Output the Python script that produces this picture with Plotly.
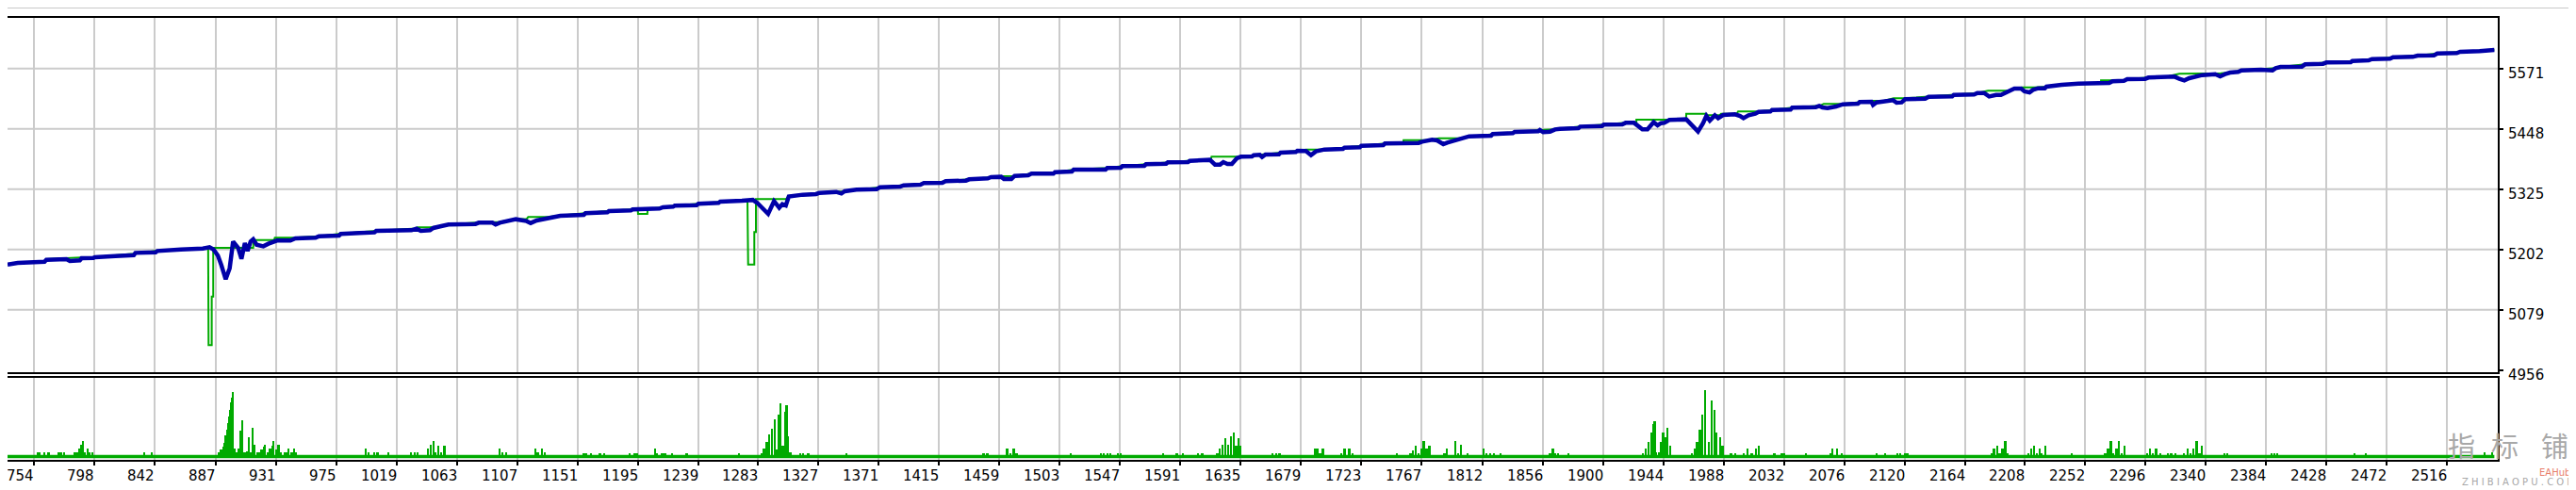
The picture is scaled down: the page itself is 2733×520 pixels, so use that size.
import plotly.graph_objects as go

# ---------------- data ----------------
# Balance curve (blue): (trade number, balance)
balance_points = [
    (734.8, 5171.3), (742.2, 5174.5), (761.8, 5177.0), (763.1, 5180.9), (777.8, 5182.2),
    (780.3, 5178.4), (787.6, 5179.7), (788.9, 5184.1), (797.5, 5184.8), (798.7, 5186.1),
    (813.5, 5188.6), (827.0, 5190.5), (828.2, 5195.0), (843.0, 5196.3), (844.2, 5198.9),
    (860.2, 5200.2), (861.4, 5202.1), (877.4, 5204.0), (882.3, 5206.6), (885.2, 5202.1),
    (888.4, 5189.3), (890.9, 5170.1), (894.1, 5141.2), (897.0, 5163.7), (899.5, 5218.1),
    (903.2, 5205.3), (905.6, 5182.9), (908.1, 5214.9), (910.1, 5198.9), (912.3, 5218.1),
    (914.2, 5222.6), (916.7, 5211.7), (921.6, 5208.5), (925.3, 5213.6), (929.0, 5216.8),
    (931.4, 5220.0), (941.3, 5220.0), (945.0, 5224.5), (959.7, 5225.8), (962.2, 5229.0),
    (976.9, 5230.3), (978.1, 5233.5), (991.7, 5235.4), (1002.7, 5236.7), (1004.0, 5239.9),
    (1029.8, 5241.2), (1033.4, 5244.4), (1036.6, 5239.9), (1043.3, 5241.2), (1045.7, 5245.7),
    (1050.7, 5248.9), (1056.8, 5252.7), (1076.5, 5254.0), (1078.9, 5256.5), (1088.8, 5256.5),
    (1091.2, 5252.7), (1094.2, 5256.5), (1101.0, 5259.7), (1106.0, 5263.6), (1113.8, 5259.8),
    (1116.8, 5255.9), (1121.2, 5261.0), (1129.8, 5266.2), (1138.4, 5270.7), (1155.6, 5272.6),
    (1156.8, 5275.8), (1172.8, 5277.7), (1174.0, 5280.3), (1190.0, 5281.5), (1191.2, 5283.5),
    (1210.9, 5285.4), (1213.4, 5288.0), (1220.8, 5289.2), (1222.0, 5291.2), (1238.0, 5292.4),
    (1239.2, 5295.0), (1254.0, 5297.0), (1255.2, 5299.5), (1271.1, 5301.4), (1279.0, 5303.0),
    (1282.2, 5297.0), (1287.1, 5282.2), (1290.2, 5274.5), (1294.5, 5300.5), (1298.3, 5287.0),
    (1300.6, 5294.4), (1303.1, 5291.8), (1305.3, 5310.0), (1308.0, 5311.0), (1313.0, 5311.0),
    (1315.4, 5313.6), (1325.2, 5314.9), (1327.7, 5317.4), (1339.9, 5319.3), (1343.7, 5316.1),
    (1346.1, 5320.6), (1354.7, 5323.8), (1369.5, 5325.1), (1371.9, 5329.0), (1386.7, 5330.2),
    (1389.1, 5332.8), (1401.4, 5334.1), (1403.9, 5337.3), (1417.4, 5337.9), (1419.8, 5341.1),
    (1434.6, 5342.4), (1437.0, 5345.0), (1450.6, 5346.9), (1453.0, 5349.4), (1460.4, 5350.1),
    (1462.4, 5345.6), (1467.8, 5345.6), (1470.2, 5352.0), (1480.1, 5353.3), (1482.5, 5356.5),
    (1498.5, 5356.5), (1499.7, 5359.7), (1512.0, 5361.0), (1513.3, 5364.8), (1536.6, 5364.8),
    (1537.8, 5368.0), (1547.7, 5368.7), (1548.9, 5371.9), (1564.9, 5372.5), (1566.1, 5375.7),
    (1580.9, 5377.0), (1582.1, 5379.6), (1596.8, 5380.2), (1598.1, 5382.8), (1612.8, 5384.7),
    (1616.5, 5375.1), (1620.2, 5375.1), (1622.6, 5380.2), (1625.6, 5376.4), (1628.8, 5376.4),
    (1632.5, 5387.9), (1635.4, 5391.1), (1643.5, 5391.7), (1644.8, 5394.3), (1649.2, 5395.0),
    (1650.9, 5390.5), (1653.4, 5395.6), (1663.2, 5396.2), (1664.4, 5399.4), (1675.5, 5400.7),
    (1676.7, 5403.3), (1682.9, 5402.6), (1686.6, 5394.3), (1690.2, 5402.0), (1696.4, 5405.8),
    (1709.9, 5407.1), (1711.1, 5409.7), (1722.2, 5410.3), (1723.4, 5413.5), (1739.4, 5414.8),
    (1740.6, 5418.0), (1765.2, 5419.3), (1767.7, 5421.8), (1775.0, 5425.7), (1778.7, 5424.4),
    (1783.2, 5416.7), (1786.1, 5419.9), (1789.8, 5423.1), (1794.7, 5427.6), (1802.1, 5432.7),
    (1818.1, 5434.0), (1819.3, 5437.2), (1834.0, 5439.1), (1835.3, 5441.7), (1852.5, 5443.0),
    (1853.7, 5445.5), (1856.2, 5441.1), (1861.1, 5442.3), (1864.8, 5446.8), (1868.4, 5448.1),
    (1881.9, 5449.3), (1883.2, 5452.5), (1899.1, 5453.8), (1900.4, 5456.4), (1913.9, 5457.0),
    (1916.3, 5460.2), (1922.5, 5460.2), (1925.0, 5455.1), (1928.6, 5446.8), (1932.3, 5446.8),
    (1936.8, 5461.5), (1939.7, 5455.1), (1942.2, 5459.6), (1944.6, 5460.2), (1948.3, 5466.0),
    (1960.6, 5467.3), (1965.5, 5451.9), (1969.2, 5442.3), (1972.9, 5459.6), (1975.3, 5474.3),
    (1977.8, 5464.7), (1981.5, 5475.6), (1983.9, 5469.8), (1987.6, 5476.2), (1996.2, 5477.5),
    (1999.9, 5474.3), (2002.4, 5469.8), (2006.1, 5475.6), (2011.0, 5478.8), (2013.4, 5482.6),
    (2022.0, 5483.3), (2023.3, 5486.5), (2036.8, 5487.1), (2038.0, 5491.0), (2055.2, 5492.3),
    (2057.7, 5494.8), (2060.1, 5491.6), (2063.8, 5490.3), (2070.0, 5493.5), (2074.9, 5498.0),
    (2086.0, 5499.3), (2087.2, 5502.5), (2095.8, 5503.1), (2097.0, 5496.7), (2099.5, 5501.9),
    (2106.8, 5505.1), (2111.7, 5506.3), (2114.2, 5501.2), (2117.9, 5501.9), (2120.4, 5508.3),
    (2135.1, 5509.6), (2137.6, 5513.4), (2154.8, 5514.0), (2156.0, 5517.2), (2170.8, 5517.9),
    (2173.2, 5521.1), (2178.1, 5521.1), (2181.8, 5514.0), (2186.8, 5517.2), (2190.4, 5517.2),
    (2194.1, 5522.4), (2197.8, 5525.6), (2200.2, 5530.0), (2205.1, 5530.0), (2207.6, 5524.3),
    (2211.3, 5522.4), (2213.8, 5527.5), (2217.5, 5530.7), (2222.4, 5530.7), (2223.6, 5533.9),
    (2232.2, 5535.2), (2234.7, 5537.7), (2246.9, 5540.3), (2269.5, 5541.6), (2271.9, 5544.8),
    (2280.2, 5546.1), (2282.6, 5549.3), (2295.7, 5549.9), (2298.1, 5552.5), (2317.2, 5554.4),
    (2320.7, 5549.9), (2324.3, 5546.7), (2327.9, 5551.2), (2332.7, 5554.4), (2337.4, 5557.6),
    (2346.9, 5559.5), (2350.5, 5555.1), (2354.1, 5559.5), (2357.7, 5562.7), (2363.6, 5564.0),
    (2366.0, 5567.2), (2380.3, 5568.5), (2385.1, 5566.6), (2388.7, 5567.2), (2391.0, 5571.7),
    (2394.6, 5574.3), (2410.1, 5574.9), (2412.5, 5579.4), (2425.6, 5580.7), (2428.0, 5583.2),
    (2445.8, 5583.9), (2447.0, 5586.4), (2458.9, 5587.7), (2461.3, 5590.3), (2474.5, 5590.9),
    (2476.8, 5594.1), (2491.1, 5594.8), (2494.7, 5597.3), (2506.6, 5598.0), (2509.0, 5601.8),
    (2523.3, 5602.5), (2525.7, 5605.0), (2540.0, 5606.3), (2550.7, 5608.9),
]

# Equity curve (green): (trade number, equity)
equity_points = [
    (734.8, 5172.5), (762.0, 5178.0), (763.5, 5182.5), (778.0, 5183.5), (788.5, 5185.5),
    (798.7, 5186.5), (827.5, 5193.5), (844.0, 5199.5), (861.0, 5202.5), (877.0, 5204.5),
    (881.3, 5205.3), (881.6, 5006.7), (883.9, 5006.7), (883.9, 5105.9), (885.0, 5105.9),
    (885.0, 5205.3), (914.2, 5205.3), (914.4, 5221.3), (929.5, 5221.3), (930.0, 5225.8),
    (944.0, 5225.8), (962.0, 5229.0), (978.0, 5234.0), (1004.0, 5240.0), (1033.0, 5244.5),
    (1034.0, 5247.0), (1043.0, 5247.0), (1050.7, 5249.0), (1057.0, 5253.0), (1079.0, 5257.0),
    (1094.0, 5258.0), (1106.0, 5264.0), (1114.0, 5264.5), (1115.0, 5268.1), (1129.0, 5268.1),
    (1138.4, 5271.0), (1156.8, 5276.0), (1174.0, 5280.5), (1191.0, 5283.5), (1195.0, 5283.5),
    (1195.2, 5274.5), (1202.0, 5274.5), (1202.2, 5284.5), (1213.4, 5288.0), (1222.0, 5291.5),
    (1239.2, 5295.0), (1255.2, 5299.5), (1271.0, 5302.5), (1275.1, 5303.3), (1275.1, 5235.4),
    (1275.6, 5235.4), (1275.6, 5171.4), (1280.1, 5171.4), (1280.1, 5237.3), (1281.3, 5237.3),
    (1281.3, 5304.6), (1303.3, 5304.6), (1305.0, 5311.0), (1315.4, 5314.0), (1327.7, 5317.5),
    (1346.0, 5320.5), (1372.0, 5329.0), (1389.0, 5333.0), (1404.0, 5337.5), (1420.0, 5341.0),
    (1437.0, 5345.0), (1453.0, 5349.5), (1461.0, 5351.4), (1470.0, 5352.0), (1482.5, 5356.5),
    (1499.7, 5359.7), (1513.3, 5365.0), (1537.8, 5368.0), (1549.0, 5372.0), (1566.0, 5375.7),
    (1582.0, 5379.6), (1598.0, 5383.0), (1613.5, 5384.7), (1614.0, 5391.1), (1635.4, 5391.1),
    (1645.0, 5394.3), (1664.4, 5399.4), (1676.7, 5403.3), (1683.0, 5405.8), (1696.4, 5405.8),
    (1711.0, 5409.7), (1723.4, 5413.5), (1740.6, 5418.0), (1754.0, 5419.0), (1754.2, 5425.0),
    (1771.4, 5425.0), (1775.0, 5425.7), (1780.0, 5428.9), (1794.7, 5428.9), (1802.1, 5432.7),
    (1819.3, 5437.2), (1835.3, 5441.7), (1853.7, 5445.5), (1864.8, 5446.8), (1868.4, 5448.5),
    (1883.2, 5452.5), (1900.4, 5456.4), (1916.3, 5460.2), (1924.2, 5460.2), (1924.2, 5466.6),
    (1947.5, 5466.6), (1960.5, 5467.3), (1960.6, 5478.8), (1975.3, 5478.8), (1975.5, 5475.6),
    (1985.0, 5475.6), (1986.0, 5478.8), (1997.5, 5478.8), (1998.5, 5483.3), (2013.4, 5483.3),
    (2023.3, 5486.5), (2038.0, 5491.0), (2057.7, 5494.8), (2061.0, 5498.7), (2074.9, 5498.7),
    (2087.2, 5502.5), (2097.0, 5505.1), (2105.0, 5505.1), (2112.0, 5510.2), (2120.4, 5510.2),
    (2137.6, 5513.4), (2156.0, 5517.2), (2173.2, 5521.1), (2181.0, 5525.6), (2197.8, 5525.6),
    (2200.2, 5530.0), (2206.0, 5532.6), (2215.0, 5532.6), (2223.6, 5534.0), (2234.7, 5537.7),
    (2246.9, 5540.3), (2263.5, 5541.6), (2263.5, 5546.7), (2280.2, 5546.7), (2282.6, 5549.3),
    (2298.1, 5552.5), (2313.0, 5555.5), (2320.7, 5560.2), (2337.4, 5560.2), (2351.0, 5561.5),
    (2357.7, 5562.7), (2366.0, 5567.2), (2391.0, 5571.7), (2394.6, 5574.3), (2412.5, 5579.4),
    (2428.0, 5583.2), (2447.0, 5586.4), (2461.3, 5590.3), (2476.8, 5594.1), (2494.7, 5597.3),
    (2509.0, 5601.8), (2525.7, 5605.0), (2540.0, 5607.5), (2550.7, 5609.5),
]

# Lower panel histogram: (trade number, bar height)
volume_points = [
    (756.8, 5), (758.4, 5), (761.8, 5), (764.7, 5), (772.0, 5), (773.7, 5), (776.0, 5),
    (784.1, 5), (785.7, 5), (787.1, 9), (788.3, 13), (789.9, 17), (791.0, 5), (793.3, 9),
    (794.9, 5), (796.7, 5), (834.6, 5), (840.3, 5),
    (889.0, 5), (890.8, 8), (892.6, 11), (893.4, 15), (894.2, 23), (895.4, 29), (896.0, 36),
    (896.5, 43), (897.3, 50), (898.1, 58), (898.8, 63), (899.5, 69), (900.4, 9), (902.3, 5),
    (903.7, 9), (905.0, 28), (906.4, 39), (908.0, 5), (909.6, 6), (910.8, 21), (912.1, 5),
    (913.8, 31), (915.1, 13), (917.2, 5), (919.0, 5), (920.2, 8), (921.8, 11), (922.9, 13),
    (924.8, 5), (926.4, 9), (928.0, 12), (929.1, 17), (931.0, 8), (932.6, 13), (934.4, 5),
    (937.1, 5), (938.5, 5), (940.1, 9), (942.4, 5), (944.0, 9), (945.4, 5),
    (996.3, 9), (998.4, 5), (1002.4, 5), (1005.0, 5), (1012.8, 5), (1029.4, 5), (1032.2, 5),
    (1034.0, 5), (1041.9, 9), (1043.8, 13), (1045.7, 17), (1047.5, 5), (1049.4, 12),
    (1051.6, 5), (1053.9, 12),
    (1094.3, 9), (1096.3, 5), (1099.1, 5), (1120.0, 9), (1122.0, 5), (1125.2, 9), (1127.1, 5),
    (1155.6, 4), (1157.6, 4), (1160.7, 4), (1167.4, 4), (1170.6, 4), (1189.2, 4), (1192.3, 4),
    (1194.3, 4), (1207.7, 9), (1208.9, 4), (1212.9, 4), (1214.8, 4), (1220.0, 4), (1230.7, 4),
    (1269.0, 4),
    (1285.2, 4), (1287.2, 9), (1289.1, 16), (1291.1, 24), (1293.1, 30), (1295.0, 40),
    (1296.6, 8), (1297.8, 45), (1299.0, 57), (1301.0, 12), (1302.6, 48), (1303.6, 55),
    (1304.5, 22), (1306.5, 5), (1313.6, 4), (1315.6, 4), (1319.5, 4), (1347.2, 4),
    (1447.4, 4), (1450.2, 4), (1464.8, 9), (1467.2, 4), (1469.6, 9), (1471.5, 4), (1511.1, 4),
    (1533.2, 4), (1535.2, 4), (1537.9, 4), (1539.9, 4), (1545.8, 4), (1547.8, 4), (1578.6, 4),
    (1588.5, 4), (1593.2, 4), (1604.3, 4), (1607.1, 4),
    (1618.1, 4), (1620.1, 9), (1622.1, 13), (1624.1, 20), (1626.0, 13), (1628.0, 22),
    (1630.0, 26), (1632.0, 12), (1633.5, 20), (1635.1, 12),
    (1658.4, 4), (1661.2, 4), (1663.6, 4), (1689.2, 9), (1691.2, 9), (1693.2, 4), (1695.2, 9),
    (1708.6, 4), (1711.0, 9), (1714.5, 9), (1716.9, 4), (1749.3, 4),
    (1759.2, 4), (1761.2, 7), (1763.1, 12), (1765.1, 4), (1767.1, 9), (1769.0, 17),
    (1771.0, 9), (1773.0, 12), (1784.1, 4), (1786.0, 9), (1792.0, 17), (1794.0, 4),
    (1795.9, 13), (1800.7, 4), (1812.5, 9), (1814.5, 4), (1817.3, 4), (1820.4, 4), (1825.2, 4),
    (1861.1, 4), (1863.1, 9), (1865.1, 4), (1867.0, 4), (1874.5, 4),
    (1929.1, 4), (1931.1, 9), (1933.0, 16), (1935.0, 26), (1936.6, 35), (1937.6, 38),
    (1938.7, 5), (1941.0, 5), (1942.1, 16), (1943.7, 26), (1945.2, 21), (1946.8, 31),
    (1948.8, 12),
    (1964.6, 4), (1966.6, 9), (1968.6, 16), (1970.6, 29), (1972.5, 45), (1974.5, 71),
    (1977.0, 16), (1979.4, 60), (1981.1, 50), (1982.7, 26), (1985.2, 21), (1987.2, 12),
    (1993.4, 4), (1996.2, 4), (2002.4, 4), (2005.2, 9), (2008.5, 4), (2011.4, 9), (2013.4, 12),
    (2024.9, 4), (2030.2, 4), (2031.9, 4), (2048.2, 4), (2065.8, 4), (2067.5, 9), (2070.8, 9),
    (2074.0, 4), (2099.8, 4), (2105.6, 4), (2115.0, 4), (2117.0, 4), (2120.3, 4), (2122.0, 4),
    (2183.8, 4), (2185.4, 9), (2187.5, 12), (2189.5, 4), (2191.6, 9), (2193.6, 17), (2195.2, 4),
    (2210.4, 4), (2212.4, 9), (2214.5, 12), (2216.5, 4), (2218.6, 9), (2220.2, 4), (2222.7, 12),
    (2241.9, 4),
    (2266.5, 4), (2268.5, 9), (2270.6, 17), (2272.6, 4), (2274.7, 9), (2276.7, 17), (2278.8, 4),
    (2280.8, 12), (2297.2, 4), (2299.3, 9), (2301.3, 4), (2303.8, 9), (2306.6, 4), (2312.4, 4),
    (2314.8, 4), (2317.7, 4), (2324.2, 4), (2326.7, 9), (2328.8, 4), (2330.8, 9), (2333.3, 17),
    (2335.3, 4), (2337.0, 12), (2353.7, 4), (2355.8, 4), (2388.1, 4), (2390.2, 4), (2392.2, 4),
    (2448.7, 4), (2456.9, 4), (2543.7, 5), (2549.0, 5),
]

x_tick_labels = ["754", "798", "842", "887", "931", "975", "1019", "1063", "1107", "1151",
                 "1195", "1239", "1283", "1327", "1371", "1415", "1459", "1503", "1547",
                 "1591", "1635", "1679", "1723", "1767", "1812", "1856", "1900", "1944",
                 "1988", "2032", "2076", "2120", "2164", "2208", "2252", "2296", "2340",
                 "2384", "2428", "2472", "2516"]
y_tick_values = [4956, 5079, 5202, 5325, 5448, 5571]

# ---------------- figure ----------------
bal_x = [p[0] for p in balance_points]
bal_y = [p[1] for p in balance_points]
eq_x = [p[0] for p in equity_points]
eq_y = [p[1] for p in equity_points]
vol_x = [p[0] for p in volume_points]
vol_h = [p[1] for p in volume_points]
x_tick_vals = [float(t) for t in x_tick_labels]

BLUE = "#0000A8"
GREEN = "#00AA00"
GRID = "#CBCBCB"
FONT = "DejaVu Sans"
WM = "#A8A8A8"

W, H = 2733, 520
ML, MR, MT, MB = 0, 91, 11, 40
PW = W - ML - MR           # 2642
PH = H - MT - MB           # 469
X_RANGE = [734.8, 2553.2]
UPPER_BOTTOM_PX = 386.7
LOWER_TOP_PX = 392.7


def py(ypx):
    return (H - MB - ypx) / PH


def px(xpx):
    return xpx / PW


fig = go.Figure()
fig.add_trace(go.Scatter(x=eq_x, y=eq_y, mode="lines", line=dict(color=GREEN, width=2),
                         xaxis="x", yaxis="y", hoverinfo="skip"))
fig.add_trace(go.Scatter(x=bal_x, y=bal_y, mode="lines", line=dict(color=BLUE, width=4.5),
                         xaxis="x", yaxis="y", hoverinfo="skip"))
fig.add_trace(go.Bar(x=vol_x, y=vol_h, width=1.6, marker=dict(color=GREEN, line_width=0),
                     xaxis="x2", yaxis="y2", hoverinfo="skip"))
fig.add_trace(go.Scatter(x=[bal_x[0], bal_x[-1]], y=[0, 0], mode="lines",
                         line=dict(color=GREEN, width=3.5), xaxis="x2", yaxis="y2",
                         hoverinfo="skip"))

# horizontal grid lines (the bottom tick sits on the panel border, no grid line there)
grid_shapes = [
    dict(type="line", xref="paper", yref="y", x0=0, x1=1, y0=v, y1=v, layer="below",
         line=dict(color=GRID, width=2))
    for v in y_tick_values[1:]
]

# tick labels: x labels sit to the left of their tick, y labels right of the axis
label_annotations = [
    dict(text=t, x=v, xref="x2", y=py(497), yref="paper", xanchor="right",
         yanchor="middle", xshift=2, showarrow=False,
         font=dict(family=FONT, size=15, color="black"))
    for t, v in zip(x_tick_labels, x_tick_vals)
] + [
    dict(text=str(v), x=px(2651), xref="paper", y=v, yref="y", xanchor="left",
         yanchor="middle", yshift=-5, showarrow=False,
         font=dict(family=FONT, size=15, color="black"))
    for v in y_tick_values
]

watermark = [
    dict(text="指", x=px(2620), y=py(487), xref="paper", yref="paper", xanchor="right",
         showarrow=False, font=dict(family="Noto Sans CJK SC", size=29, color=WM)),
    dict(text="标", x=px(2666), y=py(487), xref="paper", yref="paper", xanchor="right",
         showarrow=False, font=dict(family="Noto Sans CJK SC", size=29, color=WM)),
    dict(text="铺", x=px(2719), y=py(487), xref="paper", yref="paper", xanchor="right",
         showarrow=False, font=dict(family="Noto Sans CJK SC", size=29, color=WM)),
    dict(text="EAHub", x=px(2702), y=py(501), xref="paper", yref="paper",
         xanchor="center", showarrow=False,
         font=dict(family=FONT, size=10, color="#E8806C")),
    dict(text="Z H I B I A O P U . C O M", x=px(2664), y=py(511), xref="paper",
         yref="paper", xanchor="center", showarrow=False,
         font=dict(family=FONT, size=10, color=WM)),
]

fig.update_layout(
    width=W, height=H,
    margin=dict(l=ML, r=MR, t=MT, b=MB),
    paper_bgcolor="white", plot_bgcolor="white",
    showlegend=False, bargap=0,
    xaxis=dict(domain=[0, 1], range=X_RANGE, anchor="y", tickvals=x_tick_vals,
               showticklabels=False, ticks="", showgrid=True, gridcolor=GRID, gridwidth=2,
               showline=True, linecolor="black", linewidth=2, mirror=True, zeroline=False),
    xaxis2=dict(domain=[0, 1], range=X_RANGE, anchor="y2", matches="x",
                tickvals=x_tick_vals, showticklabels=False,
                ticks="outside", ticklen=4, tickwidth=2, tickcolor="black",
                showgrid=True, gridcolor=GRID, gridwidth=2,
                showline=True, linecolor="black", linewidth=2, mirror=True, zeroline=False),
    yaxis=dict(domain=[py(UPPER_BOTTOM_PX), 1], range=[4952.2, 5674.2], anchor="x",
               side="right", tickvals=y_tick_values, showticklabels=False,
               ticks="outside", ticklen=4, tickwidth=2, tickcolor="black",
               showgrid=False,
               showline=True, linecolor="black", linewidth=2, zeroline=False),
    yaxis2=dict(domain=[0, py(LOWER_TOP_PX)], range=[-3.5, 83.8], anchor="x2",
                side="right", showticklabels=False, ticks="", showgrid=False,
                showline=True, linecolor="black", linewidth=2, zeroline=False),
    shapes=grid_shapes + [
        dict(type="line", xref="paper", yref="paper", x0=0, x1=W / PW,
             y0=py(516.5), y1=py(516.5), line=dict(color="black", width=2)),
        dict(type="rect", xref="paper", yref="paper", x0=0, x1=W / PW,
             y0=py(520), y1=py(518), fillcolor="#EDEDED", line=dict(width=0)),
        dict(type="line", xref="paper", yref="paper", x0=0, x1=W / PW,
             y0=py(0.5), y1=py(0.5), line=dict(color="#C8C8C8", width=1)),
    ],
    annotations=label_annotations + watermark,
)

fig.write_html("out.html")
